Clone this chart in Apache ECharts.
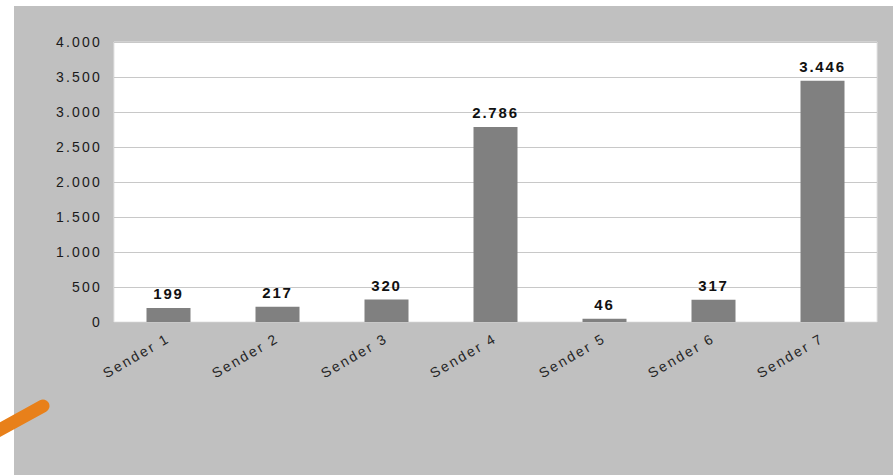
<!DOCTYPE html>
<html>
<head>
<meta charset="utf-8">
<script src="https://cdn.jsdelivr.net/npm/echarts@6/dist/echarts.min.js"></script>
<style>
  html, body { margin: 0; padding: 0; background: #ffffff; }
  #chart { width: 893px; height: 475px; }
  /* wide tracking for axis text, a little tighter for the value labels */
  #chart text { letter-spacing: 2.2px; }
  #chart text[font-weight="bold"], #chart text[style*="bold"] { letter-spacing: 1.8px; }
</style>
</head>
<body>
<div id="chart"></div>
<script>
// Categories and values for the bar chart
const senders = ['Sender 1', 'Sender 2', 'Sender 3', 'Sender 4', 'Sender 5', 'Sender 6', 'Sender 7'];
const counts = [199, 217, 320, 2786, 46, 317, 3446];
const yMin = 0;
const yMax = 4000;
const yStep = 500;

// German-style thousands separator (e.g. 3.446)
function fmt(v) {
  return String(Math.round(v)).replace(/\B(?=(\d{3})+(?!\d))/g, '.');
}

const chart = echarts.init(document.getElementById('chart'), null, { renderer: 'svg' });
const font = 'Arial, "Liberation Sans", sans-serif';

chart.setOption({
  animation: false,
  backgroundColor: '#ffffff',
  graphic: [
    {
      type: 'rect', z: -10, silent: true,
      shape: { x: 14, y: 6, width: 893 - 14, height: 475 - 6 },
      style: { fill: '#c0c0c0' }
    },
    {
      type: 'line', z: 100, silent: true,
      shape: { x1: -6, y1: 433, x2: 43, y2: 406 },
      style: { stroke: '#e8801a', lineWidth: 13, lineCap: 'round' }
    }
  ],
  grid: {
    left: 114, right: 16, top: 42, bottom: 153,
    show: true, backgroundColor: '#ffffff', borderWidth: 1, borderColor: '#e4e4e4'
  },
  xAxis: {
    type: 'category',
    data: senders,
    axisLine: { show: false },
    axisTick: { show: false },
    axisLabel: {
      rotate: 30, margin: 15, interval: 0,
      color: '#262626', fontFamily: font, fontSize: 14
    }
  },
  yAxis: {
    type: 'value',
    min: yMin, max: yMax, interval: yStep,
    axisLine: { show: false },
    axisTick: { show: false },
    splitLine: { lineStyle: { color: '#c8c8c8', width: 1 } },
    axisLabel: {
      margin: 12, color: '#1a1a1a', fontFamily: font, fontSize: 14,
      formatter: fmt
    }
  },
  series: [{
    type: 'bar',
    data: counts,
    barWidth: 44,
    itemStyle: { color: '#808080' },
    label: {
      show: true, position: 'top', distance: 7,
      color: '#111111', fontFamily: font, fontSize: 15, fontWeight: 'bold',
      formatter: p => fmt(p.value)
    }
  }]
});
</script>
</body>
</html>
